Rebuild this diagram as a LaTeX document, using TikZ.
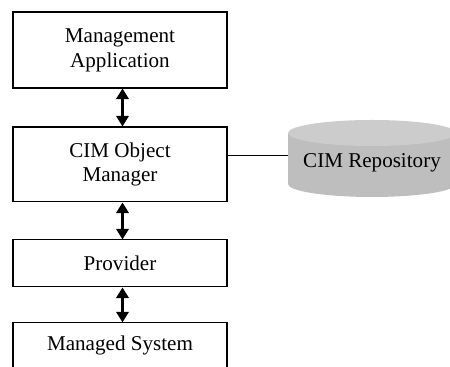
\documentclass[tikz,border=0pt]{standalone}
\usepackage{fontspec}
\setmainfont{Liberation Serif}
\usetikzlibrary{positioning,arrows.meta}

\definecolor{cyltop}{RGB}{204,204,204}
\definecolor{cylbody}{RGB}{190,190,190}

\begin{document}
\begin{tikzpicture}[x=0.02cm, y=0.02cm,
            box/.style={draw, line width=0.6pt, minimum width=4.28cm, align=center,
                        font=\fontsize{12}{14.2}\selectfont},
            link/.style={line width=1.4pt, {Triangle[length=6pt,width=7pt]}-{Triangle[length=6pt,width=7pt]}}]
        \useasboundingbox (0,0) rectangle (450,367);
        \clip (0,0) rectangle (450,367);

        \node (app) [box, minimum height=1.52cm] at (120,317) {Management\\Application};
        \node (om) [box, minimum height=1.5cm, below of=app, node distance=2.29cm] {CIM Object\\Manager};
        \node (prov) [box, minimum height=0.94cm, below of=om, node distance=1.98cm] {Provider};
        \node (sys) [box, minimum height=0.9cm, below of=prov, node distance=1.64cm] {Managed System};

        \draw [link] ([xshift=0.05cm]app.south) -- ([xshift=0.05cm]om.north);
        \draw [link] ([xshift=0.05cm]om.south) -- ([xshift=0.05cm]prov.north);
        \draw [link] ([xshift=0.05cm]prov.south) -- ([xshift=0.05cm]sys.north);

        % repository drum
        \fill [cylbody] (288,234) -- (288,183) arc [start angle=180, end angle=360, x radius=1.68cm, y radius=0.26cm] -- (456,234) -- cycle;
        \fill [cyltop] (372,234) ellipse [x radius=1.68cm, y radius=0.26cm];
        \node (repo) [minimum width=3.36cm, inner sep=0, font=\fontsize{12}{14.2}\selectfont] at (372,204) {CIM Repository};

        \coordinate (tap) at ([yshift=0.18cm]om.east);
        \draw [line width=0.6pt] (tap) -- (tap -| repo.west);
    \end{tikzpicture}
\end{document}
